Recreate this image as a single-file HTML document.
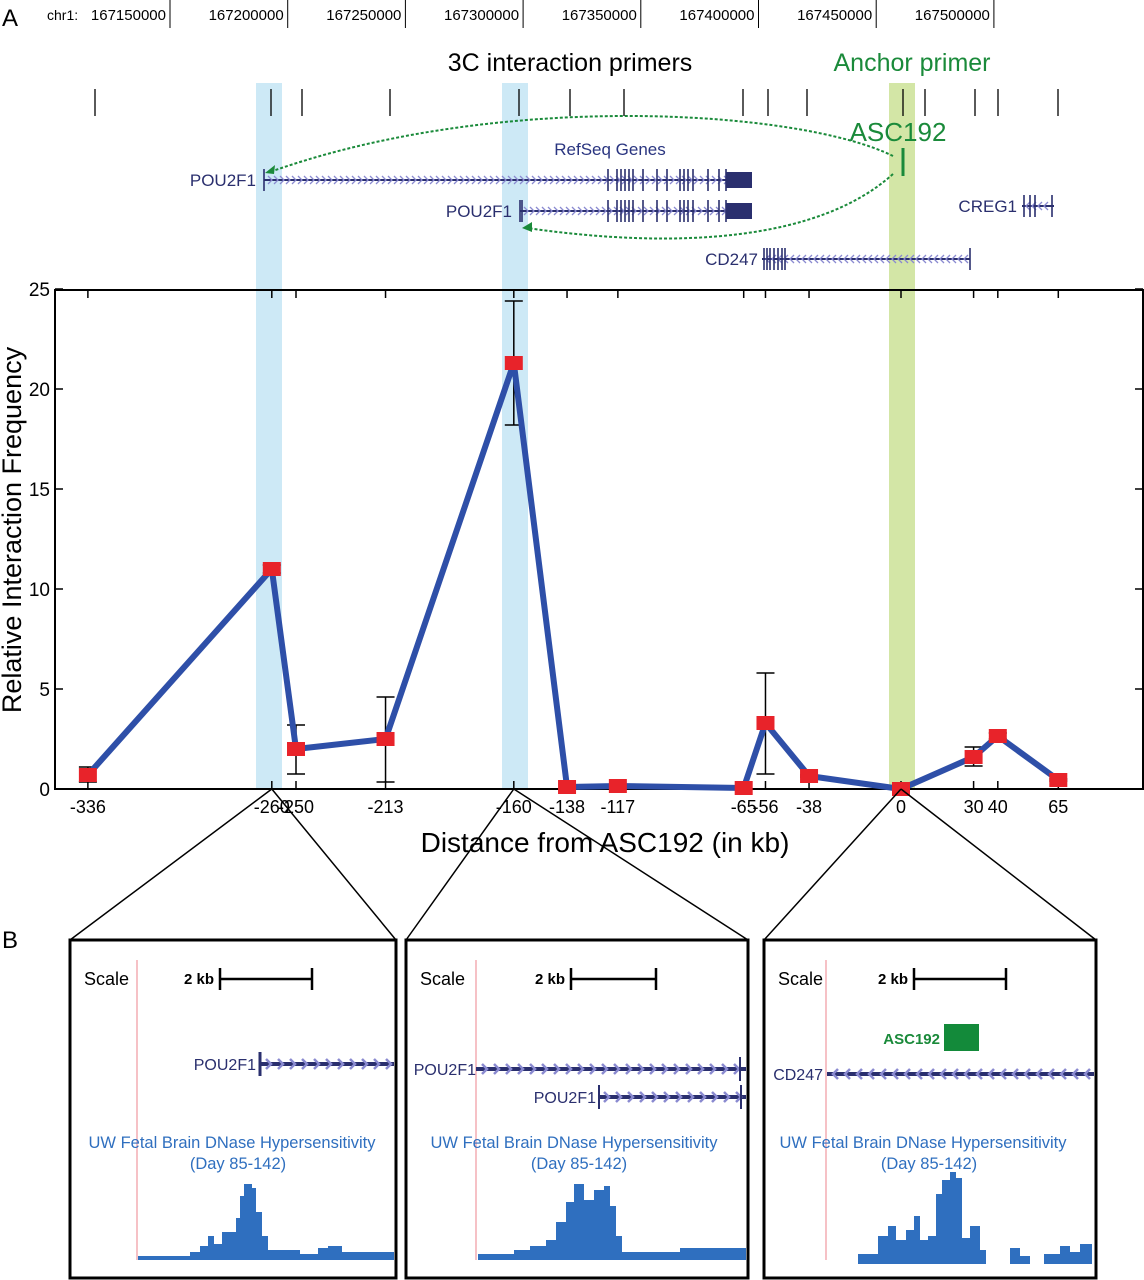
<!DOCTYPE html>
<html><head><meta charset="utf-8"><style>
body{margin:0;background:#fff}
svg{display:block;font-family:"Liberation Sans",sans-serif}
</style></head><body>
<svg id="fig" width="1144" height="1280" viewBox="0 0 1144 1280">
<g id="bands">
<rect x="256" y="83" width="26" height="706" fill="#cde9f6"/>
<rect x="502" y="83" width="26" height="706" fill="#cde9f6"/>
<rect x="889" y="83" width="26" height="706" fill="#d3e6a6"/>
</g>
<text x="2" y="26" font-size="24">A</text>
<g id="ruler" font-size="14"></g>
<text x="570" y="71" font-size="25" text-anchor="middle">3C interaction primers</text>
<text x="912" y="71" font-size="25" text-anchor="middle" fill="#1a8a3a">Anchor primer</text>
<g id="primers"></g>
<text x="898" y="141" font-size="26" text-anchor="middle" fill="#1a8a3a">ASC192</text>
<line x1="903" y1="148" x2="903" y2="176" stroke="#1a8a3a" stroke-width="3"/>
<path d="M893,156 C800,110 500,90 270,172" fill="none" stroke="#1a8a3a" stroke-width="2" stroke-dasharray="3,2"/>
<path d="M265,173 l10,-8 l-1,9z" fill="#1a8a3a"/>
<path d="M893,174 C820,240 680,250 527,228" fill="none" stroke="#1a8a3a" stroke-width="2" stroke-dasharray="3,2"/>
<path d="M522,228 l10,-6 l0,10z" fill="#1a8a3a"/>
<text x="610" y="155" font-size="17" text-anchor="middle" fill="#2a3580">RefSeq Genes</text>
<g id="genes" font-size="17" fill="#2a2f6e"></g>
<g id="chart"></g>
<text transform="translate(21,530) rotate(-90)" font-size="27" text-anchor="middle">Relative Interaction Frequency</text>
<text x="605" y="852" font-size="28" text-anchor="middle">Distance from ASC192 (in kb)</text>
<text x="2" y="948" font-size="24">B</text>
<g id="panels"></g>
</svg>
<script>
const NS='http://www.w3.org/2000/svg';
function mk(p,tag,a,txt){const e=document.createElementNS(NS,tag);for(const k in a)e.setAttribute(k,a[k]);if(txt!==undefined)e.textContent=txt;p.appendChild(e);return e;}
// ruler
const rulerLabels=['167150000','167200000','167250000','167300000','167350000','167400000','167450000','167500000'];
const ruler=document.getElementById('ruler');
rulerLabels.forEach((l,i)=>{const x=170+i*117.7;
 const ln=mk(ruler,'line',{x1:x,y1:0,x2:x,y2:28,stroke:'#000','stroke-width':1});
 
 
 const t=mk(ruler,'text',{x:x-4,y:20,'text-anchor':'end','font-size':15},l);
 
 
});
const chrT=mk(ruler,'text',{x:47,y:20},'chr1:');


// primers
const primerX=[95,271,302,390,519,570,624,743,768,807,903,925,975,998,1058];
const pr=document.getElementById('primers');
primerX.forEach(x=>{const l=mk(pr,'line',{x1:x,y1:89,x2:x,y2:116,stroke:'#000','stroke-width':1.3});
 
 });
// genes
const g=document.getElementById('genes');
function gene(x1,x2,y,label,lx,dir,exons,block){
 const c='#2a2f6e';
 mk(g,'line',{x1:x1,y1:y,x2:x2,y2:y,stroke:c,'stroke-width':2});
 for(let x=x1+4;x<x2-4;x+=6){mk(g,'path',{d:dir>0?`M${x},${y-4} l4,4 l-4,4`:`M${x+4},${y-4} l-4,4 l4,4`,fill:'none',stroke:'#8a8ad0','stroke-width':1.3});}
 exons.forEach(ex=>mk(g,'line',{x1:ex,y1:y-11,x2:ex,y2:y+11,stroke:c,'stroke-width':1.6}));
 if(block)mk(g,'rect',{x:block[0],y:y-8,width:block[1]-block[0],height:16,fill:c});
 const t=mk(g,'text',{x:lx,y:y+6,'text-anchor':'end'},label);
 
 
}
const ex=[608,617,621,625,629,633,643,657,667,680,684,688,693,708,719,726];
gene(264,752,180,'POU2F1',256,1,[264].concat(ex),[726,752]);
gene(520,752,211,'POU2F1',512,1,[520,522].concat(ex),[726,752]);
gene(762,970,259,'CD247',758,-1,[764,767,770,774,778,782,785,970],null);
gene(1022,1054,206,'CREG1',1017,-1,[1024,1030,1035,1052],null);
// chart
const categories=[-336,-260,-250,-213,-160,-138,-117,-65,-56,-38,0,30,40,65];
const values=[0.7,11.0,2.0,2.5,21.3,0.1,0.15,0.05,3.3,0.65,0.0,1.6,2.65,0.45];
const errLow=[0.35,10.8,0.75,0.35,18.2,0.1,0.15,0.05,0.75,0.6,0.0,1.15,2.5,0.4];
const errHigh=[1.1,11.2,3.2,4.6,24.4,0.1,0.15,0.05,5.8,0.7,0.0,2.1,2.8,0.5];
const yTicks=[0,5,10,15,20,25];
const X=kb=>901+2.42*kb, Y=v=>789-20*v;
const ch=document.getElementById('chart');
const frame=mk(ch,'rect',{x:55,y:290,width:1088,height:499,fill:'none',stroke:'#000','stroke-width':2});


yTicks.forEach(v=>{
 mk(ch,'line',{x1:55,y1:Y(v),x2:63,y2:Y(v),stroke:'#000','stroke-width':1.5});
 mk(ch,'line',{x1:1135,y1:Y(v),x2:1143,y2:Y(v),stroke:'#000','stroke-width':1.5});
 const t=mk(ch,'text',{x:50,y:Y(v)+7,'text-anchor':'end','font-size':19},String(v));
 
 
});
categories.forEach(c=>{
 mk(ch,'line',{x1:X(c),y1:789,x2:X(c),y2:781,stroke:'#000','stroke-width':1.5});
 mk(ch,'line',{x1:X(c),y1:290,x2:X(c),y2:298,stroke:'#000','stroke-width':1.5});
 const t=mk(ch,'text',{x:X(c),y:813,'text-anchor':'middle','font-size':18},String(c));
 
 
});
categories.forEach((c,i)=>{if(errHigh[i]-errLow[i]<0.05)return;
 const e=mk(ch,'path',{d:`M${X(c)},${Y(errLow[i])}V${Y(errHigh[i])}M${X(c)-9},${Y(errLow[i])}h18M${X(c)-9},${Y(errHigh[i])}h18`,stroke:'#000','stroke-width':1.5,fill:'none'});
 
 
});
const line=mk(ch,'polyline',{points:categories.map((c,i)=>X(c)+','+Y(values[i])).join(' '),fill:'none',stroke:'#2e4fa8','stroke-width':6,'stroke-linejoin':'round'});


categories.forEach((c,i)=>{
 const r=mk(ch,'rect',{x:X(c)-9,y:Y(values[i])-7,width:18,height:14,fill:'#e8232a'});
 
 
});
// panels
const P=document.getElementById('panels');
const panels=[[70,396,-260],[406,748,-160],[764,1096,0]];
panels.forEach((p,k)=>{
 const [a,b,c]=p;
 mk(P,'path',{d:`M${X(c)},789L${a},940M${X(c)},789L${b},940`,stroke:'#000','stroke-width':1.5,fill:'none'});
 const box=mk(P,'rect',{x:a,y:940,width:b-a,height:338,fill:'#fff',stroke:'#000','stroke-width':3});
 
 
 const red=a+(k==1?70:k==0?67:62);
 mk(P,'line',{x1:red,y1:960,x2:red,y2:1260,stroke:'#f2a0a8','stroke-width':1.3});
 mk(P,'text',{x:a+14,y:985,'font-size':18},'Scale');
 const s=a+(k==1?165:150), w=k==1?85:92;
 mk(P,'text',{x:s-6,y:984,'font-size':15,'font-weight':'bold','text-anchor':'end'},'2 kb');
 mk(P,'path',{d:`M${s},968v22M${s},979h${w}M${s+w},968v22`,stroke:'#000','stroke-width':2.5,fill:'none'});
 mk(P,'text',{x:k==2?923:(k==0?232:574),y:1148,'font-size':16.5,'text-anchor':'middle',fill:'#2f6fbf'},'UW Fetal Brain DNase Hypersensitivity');
 mk(P,'text',{x:k==2?929:(k==0?238:579),y:1169,'font-size':16.5,'text-anchor':'middle',fill:'#2f6fbf'},'(Day 85-142)');
});
function track(x1,x2,y,label,dir,lx){
 mk(P,'line',{x1:x1,y1:y,x2:x2,y2:y,stroke:'#2a2f6e','stroke-width':4});
 for(let x=x1+6;x<x2-6;x+=12){mk(P,'path',{d:dir>0?`M${x},${y-5} l5,5 l-5,5`:`M${x+5},${y-5} l-5,5 l5,5`,fill:'none',stroke:'#8a8ad0','stroke-width':2.5});}
 mk(P,'text',{x:lx,y:y+6,'font-size':16,'text-anchor':'end',fill:'#2a2f6e'},label);
}
track(260,394,1064,'POU2F1',1,256);mk(P,'line',{x1:260,y1:1052,x2:260,y2:1076,stroke:'#2a2f6e','stroke-width':3});
track(476,746,1069,'POU2F1',1,476);mk(P,'line',{x1:740,y1:1057,x2:740,y2:1081,stroke:'#2a2f6e','stroke-width':2});
track(598,746,1097,'POU2F1',1,596);mk(P,'line',{x1:599,y1:1085,x2:599,y2:1109,stroke:'#2a2f6e','stroke-width':2});mk(P,'line',{x1:741,y1:1085,x2:741,y2:1109,stroke:'#2a2f6e','stroke-width':2});
track(827,1094,1074,'CD247',-1,823);
mk(P,'text',{x:940,y:1044,'font-size':15,'font-weight':'bold','text-anchor':'end',fill:'#1a8a3a'},'ASC192');
mk(P,'rect',{x:944,y:1024,width:35,height:27,fill:'#138a3a'});
const peakFill='#2f6fbf';
mk(P,'path',{d:'M138,1260 V1256 H190 V1252 H200 V1246 H208 V1236 H214 V1244 H222 V1232 H236 V1218 H240 V1196 H244 V1184 H252 V1188 H256 V1212 H262 V1236 H268 V1250 H300 V1254 H318 V1248 H328 V1246 H342 V1252 H394 V1260Z',fill:peakFill});
mk(P,'path',{d:'M478,1260 V1254 H514 V1250 H530 V1246 H546 V1240 H556 V1222 H566 V1202 H574 V1184 H584 V1200 H594 V1190 H604 V1186 H610 V1206 H616 V1236 H622 V1252 H680 V1248 H746 V1260Z',fill:peakFill});
mk(P,'path',{d:'M858,1264 V1254 H878 V1236 H888 V1226 H896 V1240 H906 V1230 H914 V1216 H920 V1240 H928 V1236 H936 V1194 H942 V1180 H950 V1172 H956 V1178 H962 V1238 H970 V1226 H980 V1250 H986 V1264Z M1010,1264 V1248 H1020 V1256 H1030 V1264Z M1044,1264 V1254 H1060 V1246 H1070 V1252 H1080 V1244 H1092 V1264Z',fill:peakFill});
</script>
</body></html>
